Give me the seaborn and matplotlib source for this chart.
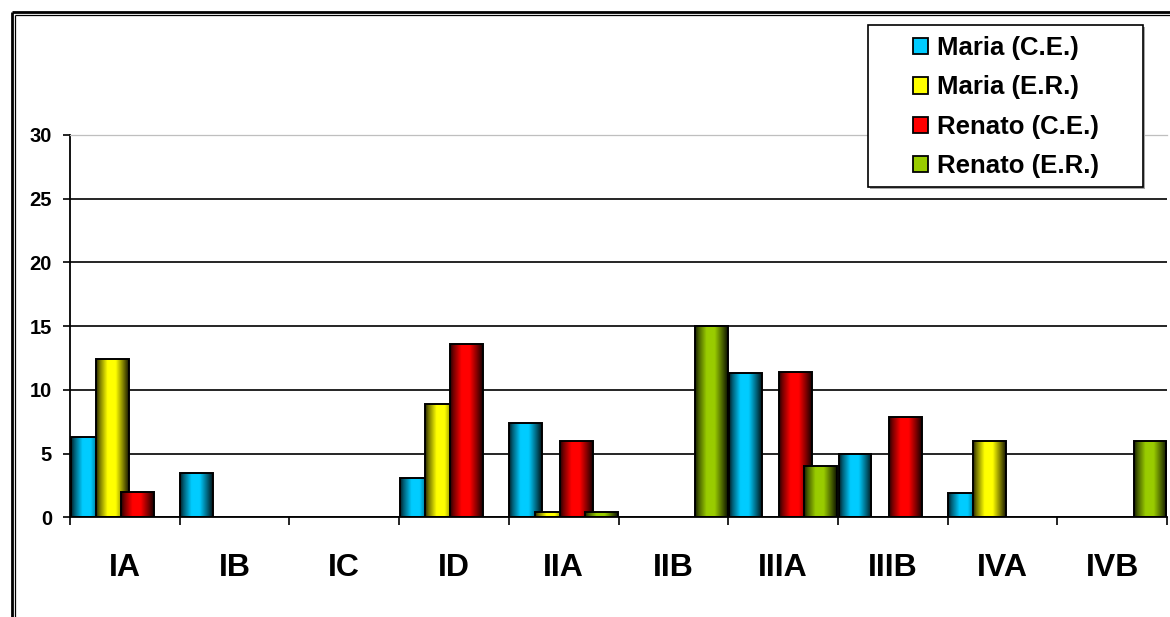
import numpy as np
import pandas as pd
import matplotlib
matplotlib.use("Agg")
import matplotlib.pyplot as plt
import seaborn as sns
from matplotlib.patches import Rectangle
from matplotlib.lines import Line2D
from matplotlib.colors import to_rgb

# ---- data -------------------------------------------------------------
stages = ["IA", "IB", "IC", "ID", "IIA", "IIB", "IIIA", "IIIB", "IVA", "IVB"]
series = ["Maria (C.E.)", "Maria (E.R.)", "Renato (C.E.)", "Renato (E.R.)"]
maria_ce = [6.3, 3.5, None, 3.1, 7.4, None, 11.3, 5.0, 1.9, None]
maria_er = [12.4, None, None, 8.9, 0.4, None, None, None, 6.0, None]
renato_ce = [2.0, None, None, 13.6, 6.0, None, 11.4, 7.9, None, None]
renato_er = [None, None, None, None, 0.4, 15.0, 4.0, None, None, 6.0]
colors = ["#00CCFF", "#FFFF00", "#FF0000", "#99CC00"]
y_ticks = [0, 5, 10, 15, 20, 25, 30]

values = [maria_ce, maria_er, renato_ce, renato_er]
rows = []
for name, vals in zip(series, values):
    for st, v in zip(stages, vals):
        if v is not None:
            rows.append({"stage": st, "series": name, "value": v})
df = pd.DataFrame(rows)

# ---- style ------------------------------------------------------------
sns.set_style("white")
plt.rcParams["font.family"] = ["Liberation Sans", "DejaVu Sans"]
plt.rcParams["font.weight"] = "bold"
plt.rcParams["text.color"] = "black"

W, H = 1170, 617
fig = plt.figure(figsize=(W / 100, H / 100), dpi=100)
ax = fig.add_axes([70 / W, (H - 517.3) / H, 1097 / W, 382.3 / H])

sns.barplot(data=df, x="stage", y="value", hue="series",
            order=stages, hue_order=series, palette=colors,
            width=0.92, errorbar=None, legend=False, saturation=1,
            edgecolor="black", linewidth=1.4, ax=ax)

# cylinder-like horizontal shading for every bar
t_knots = [0.0, 0.1, 0.35, 0.6, 0.85, 1.0]
f_knots = [0.15, 0.45, 1.0, 1.0, 0.45, 0.1]
shade = np.interp(np.linspace(0, 1, 64), t_knots, f_knots)
rgb_list = [np.array(to_rgb(c)) for c in colors]

for p in list(ax.patches):
    fc = np.array(p.get_facecolor()[:3])
    k = int(np.argmin([np.abs(fc - c).sum() for c in rgb_list]))
    x0, w, h = p.get_x(), p.get_width(), p.get_height()
    cx = x0 + w / 2
    nw = w * 1.3
    p.set_x(cx - nw / 2)
    p.set_width(nw)
    z = 2 + 0.1 * k
    img = (shade[:, None] * rgb_list[k][None, :])[None, :, :]
    im = ax.imshow(img, extent=(cx - nw / 2, cx + nw / 2, 0, h),
                   aspect="auto", interpolation="bilinear", zorder=z + 0.01)
    im.set_clip_path(p)
    p.set_facecolor("none")
    p.set_zorder(z + 0.02)

ax.set_xlim(-0.5, len(stages) - 0.5)
ax.set_ylim(0, 30)
ax.set_xlabel("")
ax.set_ylabel("")

# axes, ticks, grid
ax.set_yticks(y_ticks)
ax.set_yticklabels([str(v) for v in y_ticks])
ax.set_xticks(range(len(stages)))
ax.set_xticklabels(stages)
ax.set_xticks(np.arange(-0.5, len(stages), 1), minor=True)
ax.tick_params(axis="x", which="major", length=0, pad=26, labelsize=23)
ax.tick_params(axis="x", which="minor", length=6, width=1.2,
               direction="out", color="black", bottom=True)
ax.tick_params(axis="y", length=5, width=1.2, pad=8, labelsize=14.5,
               direction="out", color="black", left=True)
for lab in ax.get_xticklabels() + ax.get_yticklabels():
    lab.set_fontweight("bold")
    lab.set_color("black")

ax.set_axisbelow(True)
ax.yaxis.grid(True, color="black", linewidth=1.2)
ax.get_ygridlines()[-1].set_visible(False)
for side in ("left", "bottom"):
    ax.spines[side].set_color("black")
    ax.spines[side].set_linewidth(1.3)
ax.spines["right"].set_visible(False)
ax.spines["top"].set_color("#BFBFBF")
ax.spines["top"].set_linewidth(0.9)

# legend box with a light shadow
lx0, lx1 = 868 / W, 1143 / W
ly1, ly0 = 1 - 25 / H, 1 - 187 / H
fig.add_artist(Rectangle((lx0 + 1.5 / W, ly0 - 1.5 / H), lx1 - lx0, ly1 - ly0,
                         transform=fig.transFigure, facecolor="#A6A6A6",
                         edgecolor="none", zorder=2))
fig.add_artist(Rectangle((lx0, ly0), lx1 - lx0, ly1 - ly0,
                         transform=fig.transFigure, facecolor="white",
                         edgecolor="black", linewidth=1.2, zorder=3))
handles = [Rectangle((0, 0), 1, 1, facecolor=c, edgecolor="black", linewidth=1.3)
           for c in colors]
leg = fig.legend(handles, series, loc="upper left",
                 bbox_to_anchor=(913 / W, 1 - 36 / H), frameon=False,
                 borderpad=0, borderaxespad=0, handlelength=0.6,
                 handleheight=0.6, handletextpad=0.35, labelspacing=0.6,
                 prop={"weight": "bold", "size": 18.5})
for txt in leg.get_texts():
    txt.set_color("black")

# double frame around the chart area
def fline(xs, ys, lw):
    fig.add_artist(Line2D([x / W for x in xs], [1 - y / H for y in ys],
                          transform=fig.transFigure, color="black",
                          linewidth=lw, solid_capstyle="butt"))

fline([12, W], [11.5, 11.5], 2.0)
fline([12, 12], [11.5, H], 2.0)
fline([15, W], [14.8, 14.8], 0.9)
fline([15, 15], [14.8, H], 0.9)

fig.savefig("out.png", dpi=100)
